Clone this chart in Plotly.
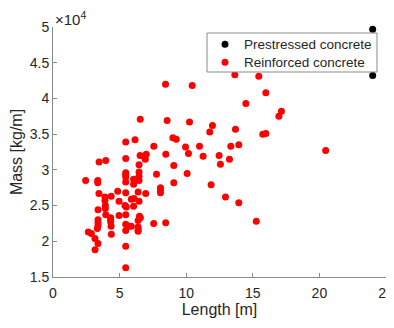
import plotly.graph_objects as go

# Prestressed concrete
ps_length = [24.0, 24.0]
ps_mass = [49700, 43200]

# Reinforced concrete
rc_length = [
    8.45, 10.45, 13.65, 15.45, 15.98, 14.48, 17.15, 16.96, 11.97, 13.7,
    11.77, 15.75, 15.98, 11.0, 13.35, 13.95, 11.27, 12.47, 13.25, 12.57,
    20.47, 11.87, 12.95, 13.95, 15.26,
    8.57, 10.25, 6.55, 5.46, 6.16, 7.57, 8.47, 9.0, 9.25, 9.95,
    10.17, 9.07, 10.07, 7.77, 9.07, 8.07, 8.07, 8.07,
    3.46, 3.96, 5.46, 6.54, 6.8, 7.0, 6.93, 6.46,
    5.46, 5.46, 5.46, 5.46, 5.46, 5.40, 5.50, 5.46, 5.46, 5.46, 5.46, 5.46, 5.69,
    6.46, 6.46, 6.46,
    6.05, 6.05, 6.05,
    2.45, 3.36, 3.36, 3.45, 3.9, 3.9, 4.37, 4.86, 4.96, 5.88,
    6.08, 6.39, 6.46, 6.96, 3.93, 3.93, 3.38, 4.33, 4.33, 3.96,
    4.96, 6.49, 6.56, 6.39, 5.88, 6.39, 6.39, 6.39, 7.56, 8.46,
    3.38, 3.38, 3.38, 3.33, 4.33, 4.36, 2.65, 2.88, 4.38, 3.15,
    3.38, 3.16,
]
rc_mass = [
    42000, 41800, 43300, 43100, 40800, 39300, 38200, 37500, 36200, 35700,
    35300, 35000, 35100, 33300, 33300, 33500, 31900, 32000, 31500, 30800,
    32700, 27900, 26200, 25400, 22800,
    36900, 36700, 37100, 33900, 34200, 33300, 32200, 34500, 34300, 33200,
    32300, 30600, 29500, 29400, 28200, 27500, 27200, 26800,
    31100, 31300, 31600, 32000, 31900, 32200, 31500, 30700,
    29600, 29300, 29000, 28300, 26800, 25000, 24800, 23700, 22400, 21500, 19300, 16300, 22100,
    29700, 29100, 28500,
    28700, 28000, 24900,
    28500, 28500, 28200, 26700, 26200, 25700, 26300, 27000, 25600, 25900,
    26000, 26900, 25600, 26700, 25000, 24600, 24400, 23300, 23000, 23700,
    23600, 23500, 23300, 22000, 22100, 21600, 21400, 22900, 22500, 22600,
    23000, 22600, 22200, 21800, 22700, 22100, 21300, 21100, 21000, 20400,
    19700, 18800,
]

x_ticks = [0, 5, 10, 15, 20, 25]
y_ticks = [15000, 20000, 25000, 30000, 35000, 40000, 45000, 50000]
y_tick_text = ["1.5", "2", "2.5", "3", "3.5", "4", "4.5", "5"]

legend_names = ["Prestressed concrete", "Reinforced concrete"]
legend_colors = ["black", "#ff0000"]

FONT = "Liberation Sans, Arial, sans-serif"
AXC = "#8a8a8a"
TXC = "#262626"

# plot area size in px (page body has an 8px margin)
PW, PH = 333, 250

fig = go.Figure()
fig.add_trace(go.Scatter(
    x=ps_length, y=ps_mass, mode="markers", name=legend_names[0],
    marker=dict(color=legend_colors[0], size=7, line=dict(width=0)),
    cliponaxis=False, showlegend=False,
))
fig.add_trace(go.Scatter(
    x=rc_length, y=rc_mass, mode="markers", name=legend_names[1],
    marker=dict(color=legend_colors[1], size=7, line=dict(width=0)),
    cliponaxis=False, showlegend=False,
))

# compact MATLAB-style legend box
shapes = [dict(
    type="rect", xref="paper", yref="paper",
    x0=(207 - 53) / PW, x1=(377 - 53) / PW,
    y0=(277 - 72) / PH, y1=(277 - 33) / PH,
    fillcolor="white", line=dict(color=AXC, width=1), layer="above",
)]
annotations = [dict(
    x=0, y=1, xref="paper", yref="paper", xanchor="left", yanchor="bottom",
    text="×10<sup>4</sup>", showarrow=False,
    font=dict(size=15, color=TXC), yshift=-3,
)]
row_y = [44.3, 62.3]
mx = (225 - 53) / PW
r = 3.5
for name, col, py in zip(legend_names, legend_colors, row_y):
    yc = (277 - py) / PH
    shapes.append(dict(
        type="circle", xref="paper", yref="paper",
        x0=mx - r / PW, x1=mx + r / PW, y0=yc - r / PH, y1=yc + r / PH,
        fillcolor=col, line=dict(width=0), layer="above",
    ))
    annotations.append(dict(
        x=(243 - 53) / PW, y=yc, xref="paper", yref="paper",
        xanchor="left", yanchor="middle", text=name, showarrow=False,
        font=dict(size=13.5, color=TXC), borderpad=0,
    ))

fig.update_layout(
    width=386, height=320,
    margin=dict(l=45, r=8, t=19, b=51, autoexpand=False),
    paper_bgcolor="white", plot_bgcolor="white",
    font=dict(family=FONT, color=TXC, size=14),
    showlegend=False,
    shapes=shapes,
    annotations=annotations,
)
fig.update_xaxes(
    range=[0, 25], tickvals=x_ticks, showgrid=False, zeroline=False,
    showline=True, linecolor=AXC, linewidth=1, automargin=False,
    ticks="inside", ticklen=4, tickcolor=AXC, ticklabelstandoff=3,
    tickfont=dict(size=14, color=TXC),
    title=dict(text="Length [m]", font=dict(size=16, color=TXC), standoff=4),
)
fig.update_yaxes(
    range=[15000, 50000], tickvals=y_ticks, ticktext=y_tick_text,
    showgrid=False, zeroline=False, automargin=False,
    showline=True, linecolor=AXC, linewidth=1,
    ticks="inside", ticklen=4, tickcolor=AXC,
    tickfont=dict(size=14, color=TXC),
    title=dict(text="Mass [kg/m]", font=dict(size=16, color=TXC), standoff=6),
)

fig.write_html("out.html")
